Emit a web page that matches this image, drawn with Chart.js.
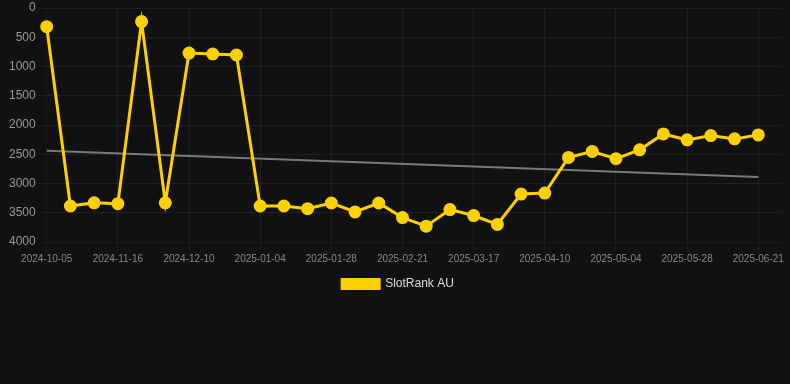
<!DOCTYPE html>
<html>
<head>
<meta charset="utf-8">
<script src="https://cdn.jsdelivr.net/npm/chart.js@4/dist/chart.umd.min.js"></script>
<style>
  html, body { margin: 0; padding: 0; background: #111111; }
  #wrap { position: relative; width: 790px; height: 300px; }
</style>
</head>
<body>
<div id="wrap"><canvas id="chart"></canvas></div>
<script>
// dates on the x axis (the last one has no value, it only widens the axis)
const dates = [
  "2024-10-05", "2024-10-19", "2024-11-02", "2024-11-16", "2024-11-24", "2024-12-02",
  "2024-12-10", "2024-12-18", "2024-12-26", "2025-01-04", "2025-01-12", "2025-01-20",
  "2025-01-28", "2025-02-05", "2025-02-13", "2025-02-21", "2025-03-01", "2025-03-09",
  "2025-03-17", "2025-03-25", "2025-04-02", "2025-04-10", "2025-04-18", "2025-04-26",
  "2025-05-04", "2025-05-12", "2025-05-20", "2025-05-28", "2025-06-05", "2025-06-13",
  "2025-06-21", "2025-06-29"
];

// rank values
const slotRankAU = [
  320, 3385, 3330, 3345, 232, 3330,
  770, 786, 803, 3385, 3385, 3430,
  3333, 3486, 3333, 3582, 3729, 3446,
  3548, 3700, 3181, 3164, 2554, 2452,
  2576, 2424, 2153, 2254, 2181, 2237,
  2169, null
];

// trend line ends (first and last date)
const trendEnds = [2441, 2890];

const yTicks = { min: 0, max: 4000, step: 500 };

const trendData = dates.map(() => null);
trendData[0] = trendEnds[0];
trendData[30] = trendEnds[1];

const font = "Arial, 'Liberation Sans', sans-serif";
const gridColor = "rgba(255,255,255,0.06)";

const ctx = document.getElementById("chart").getContext("2d");

new Chart(ctx, {
  type: "line",
  data: {
    labels: dates,
    datasets: [
      {
        label: "SlotRank AU",
        data: slotRankAU,
        borderColor: "#ffd000",
        backgroundColor: "#ffd000",
        borderWidth: 3,
        pointRadius: 5,
        pointHoverRadius: 5,
        tension: 0,
        fill: false,
      },
      {
        label: "trend",
        data: trendData,
        borderColor: "rgba(140,140,140,0.85)",
        borderWidth: 2,
        pointRadius: 0,
        spanGaps: true,
        fill: false,
      },
    ],
  },
  options: {
    responsive: true,
    maintainAspectRatio: false,
    animation: false,
    layout: { padding: { left: 6 } },
    plugins: {
      legend: {
        position: "bottom",
        labels: {
          color: "#dddddd",
          boxWidth: 37,
          boxHeight: 9,
          font: { family: font, size: 12 },
          filter: (item) => item.text !== "trend",
        },
      },
      tooltip: { enabled: false },
    },
    scales: {
      x: {
        grid: { color: gridColor },
        ticks: {
          color: "#888888",
          maxRotation: 0,
          font: { family: font, size: 10 },
        },
        afterFit: (scale) => { scale.paddingRight = 0; },
      },
      y: {
        reverse: true,
        min: yTicks.min,
        max: yTicks.max,
        grid: { color: gridColor },
        ticks: {
          stepSize: yTicks.step,
          color: "#999999",
          font: { family: font, size: 12 },
          callback: (v) => String(v),
        },
        afterFit: (scale) => { scale.paddingTop = 7; },
      },
    },
  },
});
</script>
</body>
</html>
